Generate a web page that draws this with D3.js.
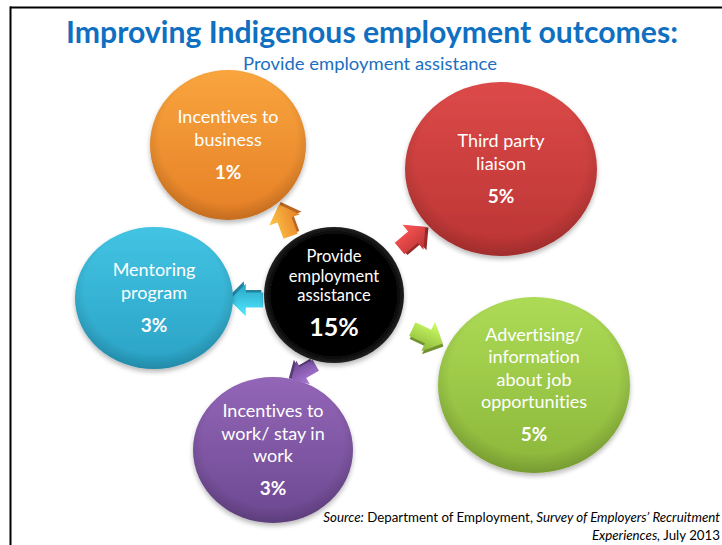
<!DOCTYPE html>
<html>
<head>
<meta charset="utf-8">
<script src="https://cdn.jsdelivr.net/npm/d3@7"></script>
<style>
  body { margin: 0; background: #fff; }
  svg { display: block; }
  text { font-variant-ligatures: none; font-feature-settings: "liga" 0; }
</style>
</head>
<body>
<svg id="chart" width="722" height="545"></svg>
<script>
// ---- data ----
const titleText = "Improving Indigenous employment outcomes:";
const subtitleText = "Provide employment assistance";
const hubLabel = ["Provide", "employment", "assistance"];
const hubValue = 15;
const categories = [
  ["Incentives to", "business"],
  ["Third party", "liaison"],
  ["Mentoring", "program"],
  ["Advertising/", "information", "about job", "opportunities"],
  ["Incentives to", "work/ stay in", "work"]
];
const values = [1, 5, 3, 5, 3];
const sourceLines = [
  [["Source:", true], [" Department of Employment, ", false], ["Survey of Employers\u2019 Recruitment", true]],
  [["Experiences,", true], [" July 2013", false]]
];

// ---- layout ----
const hubPos = { cx: 334, cy: 295, rx: 70, ry: 68 };
const nodePos = [
  { cx: 228, cy: 145, rx: 78, ry: 75, top: "#f9a53e", bot: "#e57f26" },
  { cx: 501, cy: 169, rx: 96, ry: 87, top: "#dc4a48", bot: "#bb3434" },
  { cx: 154, cy: 298, rx: 79, ry: 71, top: "#43c4e3", bot: "#2aa2c5" },
  { cx: 534, cy: 385, rx: 96, ry: 88, top: "#addb56", bot: "#8bb63a" },
  { cx: 273, cy: 450, rx: 80, ry: 73, top: "#9366b8", bot: "#6c4890" }
];
const arrowPos = [
  { x: 285, y: 221, a: -110, s: 1.25 }, { x: 412, y: 238, a: -40, s: 1.25 },
  { x: 247, y: 300, a: 180, s: 1.25 }, { x: 427, y: 336, a: 25, s: 1.25 },
  { x: 304, y: 372, a: 150, s: 1.05 }
];

const pct = d => d3.format("d")(d) + "%";
const font = "Lato, 'Open Sans', sans-serif";

const svg = d3.select("#chart");
const defs = svg.append("defs");

// drop shadow for the bubbles
const sh = defs.append("filter").attr("id", "shadow")
  .attr("x", "-20%").attr("y", "-20%").attr("width", "140%").attr("height", "140%");
sh.append("feGaussianBlur").attr("in", "SourceAlpha").attr("stdDeviation", 2.5);
sh.append("feOffset").attr("dx", 0).attr("dy", 3).attr("result", "b");
sh.append("feComponentTransfer").append("feFuncA").attr("type", "linear").attr("slope", 0.28);
const merge = sh.append("feMerge");
merge.append("feMergeNode");
merge.append("feMergeNode").attr("in", "SourceGraphic");

// edge darkening overlay
const rim = defs.append("radialGradient").attr("id", "rim")
  .attr("cx", "50%").attr("cy", "45%").attr("r", "55%");
rim.append("stop").attr("offset", "80%").attr("stop-color", "#000").attr("stop-opacity", 0);
rim.append("stop").attr("offset", "100%").attr("stop-color", "#000").attr("stop-opacity", 0.15);

nodePos.forEach((p, i) => {
  const g = defs.append("linearGradient").attr("id", "fill" + i)
    .attr("x1", 0).attr("y1", 0).attr("x2", 0).attr("y2", 1);
  g.append("stop").attr("offset", "0%").attr("stop-color", p.top);
  g.append("stop").attr("offset", "100%").attr("stop-color", p.bot);
  const a = defs.append("linearGradient").attr("id", "arrow" + i)
    .attr("x1", 0).attr("y1", 0).attr("x2", 0).attr("y2", 1);
  a.append("stop").attr("offset", "0%").attr("stop-color", d3.color(p.top).brighter(0.5));
  a.append("stop").attr("offset", "100%").attr("stop-color", p.bot);
});
const hubG = defs.append("radialGradient").attr("id", "hubfill")
  .attr("cx", "50%").attr("cy", "50%").attr("r", "50%");
hubG.append("stop").attr("offset", "88%").attr("stop-color", "#000");
hubG.append("stop").attr("offset", "100%").attr("stop-color", "#222");

// frame lines
svg.append("line").attr("x1", 10).attr("x2", 722).attr("y1", 7.5).attr("y2", 7.5)
  .attr("stroke", "#000").attr("stroke-width", 2);
svg.append("line").attr("x1", 10.5).attr("x2", 10.5).attr("y1", 6.5).attr("y2", 545)
  .attr("stroke", "#000").attr("stroke-width", 2);

// titles
svg.append("text").attr("x", 372).attr("y", 43).attr("text-anchor", "middle")
  .attr("font-family", font).attr("font-weight", "bold").attr("font-size", 30)
  .attr("textLength", 612).attr("lengthAdjust", "spacingAndGlyphs")
  .attr("fill", "#0f6fc0").text(titleText);
svg.append("text").attr("x", 370).attr("y", 70).attr("text-anchor", "middle")
  .attr("font-family", font).attr("font-size", 18)
  .attr("textLength", 254).attr("lengthAdjust", "spacingAndGlyphs")
  .attr("fill", "#1a6fc0").text(subtitleText);

// arrows pointing from the hub towards each bubble
const arrowShape = "M-13,-6 L1,-6 L1,-13 L14,0 L1,13 L1,6 L-13,6 Z";
const arrows = svg.append("g").selectAll("g").data(values).join("g")
  .attr("transform", (d, i) => {
    const p = arrowPos[i];
    return `translate(${p.x},${p.y}) rotate(${p.a}) scale(${p.s})`;
  });
arrows.append("path").attr("d", arrowShape).attr("transform", "translate(1.5,2)")
  .attr("fill", (d, i) => d3.color(nodePos[i].bot).darker(0.6));
arrows.append("path").attr("d", arrowShape)
  .attr("fill", (d, i) => `url(#arrow${i})`);

// bubbles
const nodes = svg.append("g").selectAll("g").data(values).join("g")
  .attr("transform", (d, i) => `translate(${nodePos[i].cx},${nodePos[i].cy})`);
nodes.append("ellipse").attr("rx", (d, i) => nodePos[i].rx).attr("ry", (d, i) => nodePos[i].ry)
  .attr("fill", (d, i) => `url(#fill${i})`).attr("filter", "url(#shadow)");
nodes.append("ellipse").attr("rx", (d, i) => nodePos[i].rx).attr("ry", (d, i) => nodePos[i].ry)
  .attr("fill", "url(#rim)");

const lineH = 22.5;
nodes.each(function (d, i) {
  const g = d3.select(this);
  const lines = categories[i];
  const n = lines.length;
  // text block: label lines then the value, centred on the bubble
  const total = (n - 1) * lineH + 33;
  const y0 = -total / 2 + 6;
  lines.forEach((t, k) => {
    g.append("text").attr("x", 0).attr("y", y0 + k * lineH)
      .attr("text-anchor", "middle").attr("font-family", font).attr("font-size", 18)
      .attr("fill", "#fff").text(t);
  });
  g.append("text").attr("x", 0).attr("y", y0 + (n - 1) * lineH + 33)
    .attr("text-anchor", "middle").attr("font-family", font).attr("font-weight", "bold")
    .attr("font-size", 19).attr("fill", "#fff").text(pct(d));
});

// hub
const hub = svg.append("g").attr("transform", `translate(${hubPos.cx},${hubPos.cy})`);
hub.append("ellipse").attr("rx", hubPos.rx).attr("ry", hubPos.ry)
  .attr("fill", "url(#hubfill)").attr("filter", "url(#shadow)");
hubLabel.forEach((t, k) => {
  hub.append("text").attr("x", 0).attr("y", -33 + k * 19.5)
    .attr("text-anchor", "middle").attr("font-family", font).attr("font-size", 16.5)
    .attr("fill", "#fff").text(t);
});
hub.append("text").attr("x", 0).attr("y", 41).attr("text-anchor", "middle")
  .attr("font-family", font).attr("font-weight", "bold").attr("font-size", 25)
  .attr("fill", "#fff").text(pct(hubValue));

// source note
sourceLines.forEach((parts, k) => {
  const t = svg.append("text").attr("x", 720).attr("y", 522 + k * 18)
    .attr("text-anchor", "end").attr("font-family", font).attr("font-size", 13.3)
    .attr("fill", "#000");
  parts.forEach(([s, it]) => t.append("tspan").attr("font-style", it ? "italic" : "normal").text(s));
});
</script>
</body>
</html>
